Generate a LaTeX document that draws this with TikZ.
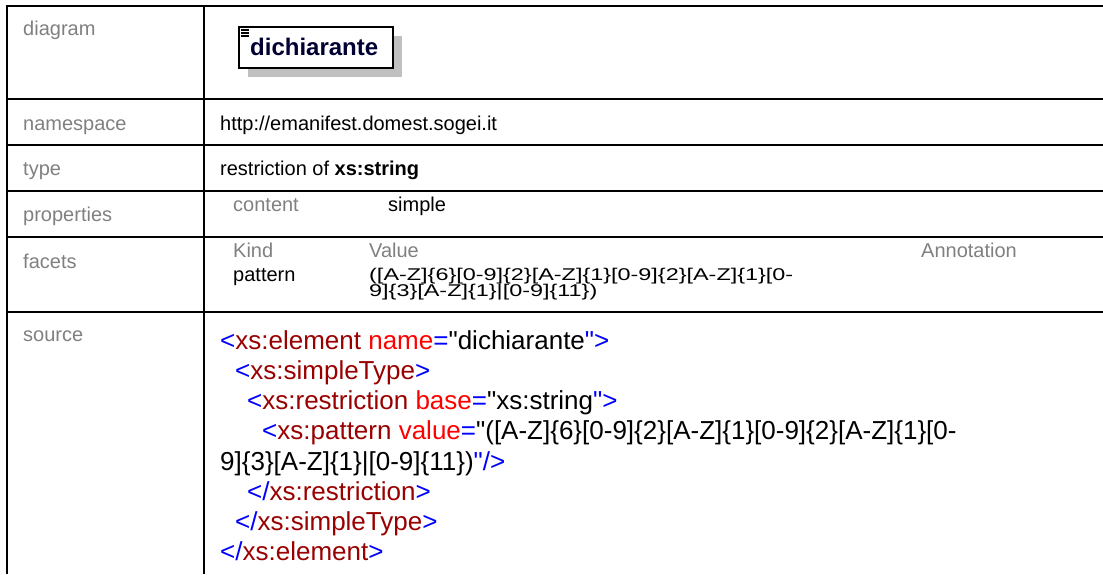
\documentclass[tikz,border=0pt]{standalone}
\usepackage{fontspec}
\setmainfont{Liberation Sans}[Ligatures=TeXOff]
\usepackage{tikz}
\usetikzlibrary{shadows}
\definecolor{lblgrey}{HTML}{808080}
\definecolor{tagblue}{HTML}{0000FF}
\definecolor{tagname}{HTML}{990000}
\definecolor{attname}{HTML}{FF0000}
\definecolor{shade}{HTML}{C0C0C0}
\definecolor{elemtext}{HTML}{000033}
\newcommand{\bl}[1]{\textcolor{tagblue}{#1}}
\newcommand{\tg}[1]{\textcolor{tagname}{#1}}
\newcommand{\at}[1]{\textcolor{attname}{#1}}
\newcommand{\qt}{\symbol{34}}
\newcommand{\patstr}[1]{\scalebox{1.17}[0.85]{#1}}
\tikzset{
  rule/.style={line width=2pt},
  lbl/.style={anchor=base west,inner sep=0pt,text=lblgrey,font=\fontsize{20}{24}\selectfont},
  val/.style={anchor=base west,inner sep=0pt,font=\fontsize{20}{24}\selectfont},
  facet/.style={anchor=base west,inner sep=0pt,font=\fontsize{20}{24}\selectfont},
  src/.style={anchor=base west,inner sep=0pt,font=\fontsize{26}{30}\selectfont},
}
\begin{document}
\begin{tikzpicture}[x=1pt,y=-1pt]
\useasboundingbox (0,0) rectangle (1103,574);

\foreach \y in {6,99,145,191,237,312}{
\draw[rule] (6,\y) -- (1103,\y);}
\draw[rule] (7,5) -- (7,574);
\draw[rule] (204,5) -- (204,574);

\node[lbl] (diagram) at (23,35) {diagram};
\node[lbl] (namespace) at (23,130) {namespace};
\node[lbl] (type) at (23,175) {type};
\node[lbl] (properties) at (23,221) {properties};
\node[lbl] (facets) at (23,268) {facets};
\node[lbl] (source) at (23,341) {source};

\node[draw,line width=1.5pt,fill=white,minimum width=154,minimum height=41,anchor=north west,inner sep=0pt,
  drop shadow={shadow xshift=9pt,shadow yshift=-9pt,fill=shade,opacity=1}] (elem) at (238,26) {};
\node[anchor=base west,inner sep=0pt,text=elemtext,font=\fontsize{24}{27}\bfseries] (elemname) at (250,55) {dichiarante};
\foreach \y in {30,33,36}{
\draw[line width=1.3pt] (241,\y) -- ++(8,0);}

\node[val] (nsval) at (220,130) {http://emanifest.domest.sogei.it};
\node[val] (typeval) at (220,175) {restriction of \textbf{xs:string}};

\node[lbl] (content) at (233,211) {content};
\node[val] (simple) at (388,211) {simple};

\node[facet,text=lblgrey] (kind) at (233,257) {Kind};
\node[facet,text=lblgrey] (value) at (369,257) {Value};
\node[facet,text=lblgrey] (annot) at (921,257) {Annotation};
\node[facet] (pattern) at (233,281) {pattern};
\node[facet] (pat1) at (369,280) {\patstr{([A-Z]\{6\}[0-9]\{2\}[A-Z]\{1\}[0-9]\{2\}[A-Z]\{1\}[0-}};
\node[facet] (pat2) at (369,296) {\patstr{9]\{3\}[A-Z]\{1\}|[0-9]\{11\})}};

\node[src] (line1) at (220,349) {\bl{<}\tg{xs:element} \at{name}\bl{=}\qt dichiarante\bl{\qt>}};
\node[src] (line2) at (235,379) {\bl{<}\tg{xs:simpleType}\bl{>}};
\node[src] (line3) at (247,409) {\bl{<}\tg{xs:restriction} \at{base}\bl{=}\qt xs:string\bl{\qt>}};
\node[src] (line4) at (262,439) {\bl{<}\tg{xs:pattern} \at{value}\bl{=}\qt([A-Z]\{6\}[0-9]\{2\}[A-Z]\{1\}[0-9]\{2\}[A-Z]\{1\}[0-};
\node[src] (line5) at (220,470) {9]\{3\}[A-Z]\{1\}|[0-9]\{11\})\bl{\qt/>}};
\node[src] (line6) at (247,500) {\bl{</}\tg{xs:restriction}\bl{>}};
\node[src] (line7) at (235,530) {\bl{</}\tg{xs:simpleType}\bl{>}};
\node[src] (line8) at (220,560) {\bl{</}\tg{xs:element}\bl{>}};
\end{tikzpicture}
\end{document}
